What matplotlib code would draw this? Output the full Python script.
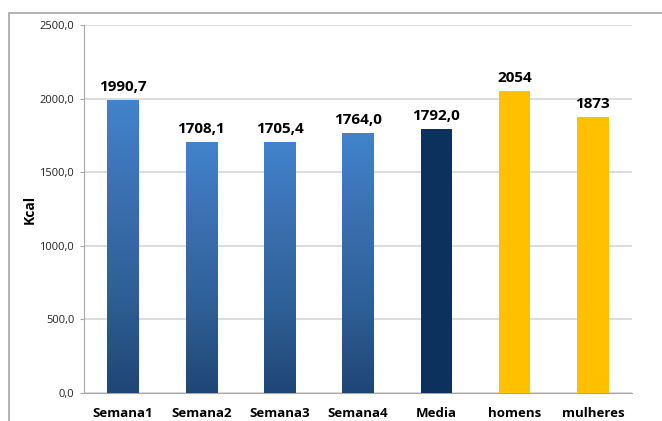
import matplotlib.pyplot as plt
import numpy as np
from matplotlib.patches import Rectangle
from matplotlib.colors import LinearSegmentedColormap

categories = ['Semana1', 'Semana2', 'Semana3', 'Semana4', 'Media', 'homens', 'mulheres']
values = [1990.7, 1708.1, 1705.4, 1764.0, 1792.0, 2054, 1873]
labels = ['1990,7', '1708,1', '1705,4', '1764,0', '1792,0', '2054', '1873']
kinds = ['grad', 'grad', 'grad', 'grad', 'dark', 'yellow', 'yellow']
yticks = [0, 500, 1000, 1500, 2000, 2500]

plt.rcParams['font.family'] = ['Open Sans', 'DejaVu Sans']

fig = plt.figure(figsize=(6.62, 4.21), dpi=100)
ax = fig.add_axes([84 / 662, 1 - 393 / 421, (632 - 84) / 662, (393 - 25) / 421])

# outer frame
fig.patches.append(Rectangle((9 / 662, -0.1), 1.2, 1 - 13 / 421 + 0.1, transform=fig.transFigure,
                             fill=False, edgecolor='#a6a6a6', linewidth=1.2))

grad = LinearSegmentedColormap.from_list('g', ['#1f4675', '#2e5f96', '#3a6fb0', '#4283cc'])
width = 0.4
x = np.arange(len(categories))
for i, (v, k) in enumerate(zip(values, kinds)):
    if k == 'grad':
        bar = ax.bar(i, v, width, color='none', edgecolor='none', zorder=3)[0]
        img = ax.imshow(np.linspace(0, 1, 256).reshape(-1, 1), cmap=grad, origin='lower',
                        extent=[i - width / 2, i + width / 2, 0, v], aspect='auto', zorder=3)
        img.set_clip_path(bar)
    elif k == 'dark':
        ax.bar(i, v, width, color='#0c315c', zorder=3)
    else:
        ax.bar(i, v, width, color='#ffc000', zorder=3)
    ax.text(i, v + 40, labels[i], ha='center', va='bottom', fontsize=11, fontweight='bold')

ax.set_xlim(-0.5, len(categories) - 0.5)
ax.set_ylim(0, 2500)
ax.set_yticks(yticks)
ax.set_yticklabels([f'{t},0' for t in yticks], fontsize=8, color='#222222')
ax.set_xticks(x)
ax.set_xticklabels(categories, fontsize=9.5, fontweight='bold')
ax.tick_params(axis='x', length=0, pad=10)
ax.tick_params(axis='y', length=3, color='#a6a6a6', pad=4)
ax.grid(axis='y', color='#d6d6d6', linewidth=1.2, zorder=0)
ax.set_axisbelow(True)
for s in ['top', 'right']:
    ax.spines[s].set_visible(False)
ax.spines['left'].set_color('#a6a6a6')
ax.spines['bottom'].set_color('#a6a6a6')
ax.set_ylabel('Kcal', fontsize=10, fontweight='bold')
ax.yaxis.set_label_coords((37 - 84) / 548, 0.5)

fig.savefig('out.png', dpi=100)
